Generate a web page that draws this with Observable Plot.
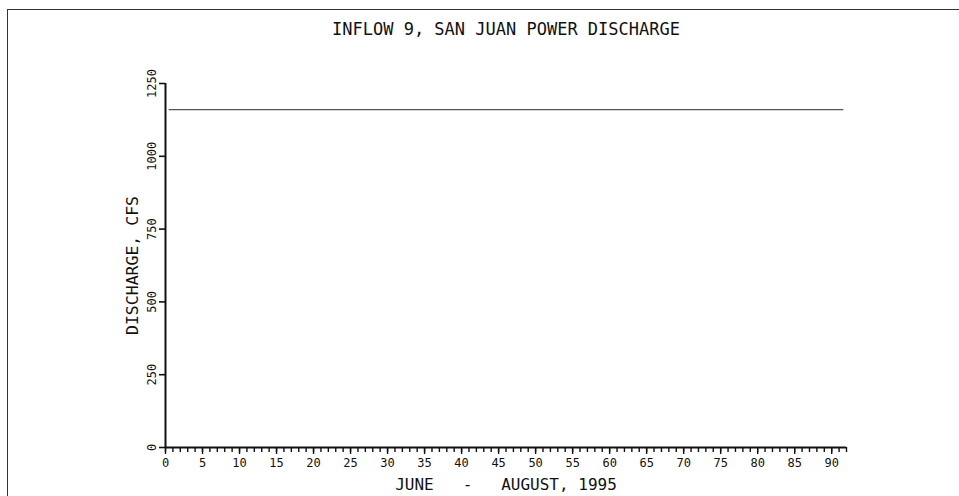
<!DOCTYPE html>
<html>
<head>
<meta charset="utf-8">
<script src="https://cdn.jsdelivr.net/npm/d3@7"></script>
<script src="https://cdn.jsdelivr.net/npm/@observablehq/plot@0.6"></script>
<style>
  html, body { margin: 0; padding: 0; background: #fff; overflow: hidden; }
  #page { position: relative; width: 959px; height: 496px; overflow: hidden; }
  #edge { position: absolute; left: 7px; top: 9px; width: 1200px; height: 800px;
          border-top: 1.5px solid #333; border-left: 1.5px solid #333; }
  #chart { position: absolute; left: 0; top: 0; }
</style>
</head>
<body>
<div id="page"><div id="edge"></div><div id="chart"></div></div>
<script>
// Daily power discharge, June 1 – August 31, 1995 (day number, cfs)
const days = d3.range(1, 93);
const discharge = [
  1160, 1160, 1160, 1160, 1160, 1160, 1160, 1160, 1160, 1160,
  1160, 1160, 1160, 1160, 1160, 1160, 1160, 1160, 1160, 1160,
  1160, 1160, 1160, 1160, 1160, 1160, 1160, 1160, 1160, 1160,
  1160, 1160, 1160, 1160, 1160, 1160, 1160, 1160, 1160, 1160,
  1160, 1160, 1160, 1160, 1160, 1160, 1160, 1160, 1160, 1160,
  1160, 1160, 1160, 1160, 1160, 1160, 1160, 1160, 1160, 1160,
  1160, 1160, 1160, 1160, 1160, 1160, 1160, 1160, 1160, 1160,
  1160, 1160, 1160, 1160, 1160, 1160, 1160, 1160, 1160, 1160,
  1160, 1160, 1160, 1160, 1160, 1160, 1160, 1160, 1160, 1160,
  1160, 1160
];

const xMajorTicks = [0, 5, 10, 15, 20, 25, 30, 35, 40, 45, 50, 55, 60, 65, 70, 75, 80, 85, 90];
const xMinorTicks = d3.range(0, 93);
const yTicks = [0, 250, 500, 750, 1000, 1250];

const title = "INFLOW 9, SAN JUAN POWER DISCHARGE";
const yLabel = "DISCHARGE, CFS";
const xLabel = "JUNE\u00a0\u00a0\u00a0-\u00a0\u00a0\u00a0AUGUST, 1995";

const rows = days.map((d, i) => ({day: d, cfs: discharge[i]}));

const ink = "#111";
const mono = "'DejaVu Sans Mono', 'Liberation Mono', monospace";

const chart = Plot.plot({
  width: 959,
  height: 496,
  marginLeft: 165,
  marginRight: 113,
  marginTop: 83,
  marginBottom: 49,
  style: {fontFamily: mono, color: ink, background: "transparent", overflow: "visible"},
  x: {domain: [0, 92]},
  y: {domain: [0, 1250]},
  marks: [
    // minor day ticks
    Plot.axisX({ticks: xMinorTicks, tickSize: 5, tickFormat: () => "", strokeWidth: 1.4, label: null}),
    // major ticks every five days, with labels
    Plot.axisX({ticks: xMajorTicks, tickSize: 7, tickPadding: 4, fontSize: 12, strokeWidth: 1.4, label: null}),
    Plot.axisY({ticks: yTicks, tickSize: 6, tickFormat: () => "", strokeWidth: 1.6, label: null}),
    Plot.text(yTicks, {x: 0, y: d => d, text: d => String(d), rotate: -90, dx: -13,
                       textAnchor: "middle", lineAnchor: "middle", fontSize: 12, fill: ink}),
    // axis lines
    Plot.ruleX([0], {y1: 0, y2: 1250, stroke: ink, strokeWidth: 2}),
    Plot.ruleY([0], {x1: 0, x2: 92, stroke: ink, strokeWidth: 2}),
    // discharge series, plotted at midday
    Plot.line(rows, {x: d => d.day - 0.5, y: "cfs", stroke: "#555", strokeWidth: 1.3}),
    // titles
    Plot.text([title], {frameAnchor: "top", dy: -61, lineAnchor: "top", fontSize: 17, fill: ink}),
    Plot.text([yLabel], {frameAnchor: "left", dx: -33, rotate: -90, textAnchor: "middle",
                         lineAnchor: "middle", fontSize: 16.5, fill: ink}),
    Plot.text([xLabel], {frameAnchor: "bottom", dy: 42, lineAnchor: "bottom", fontSize: 16, fill: ink})
  ]
});

document.getElementById("chart").appendChild(chart);
</script>
</body>
</html>
